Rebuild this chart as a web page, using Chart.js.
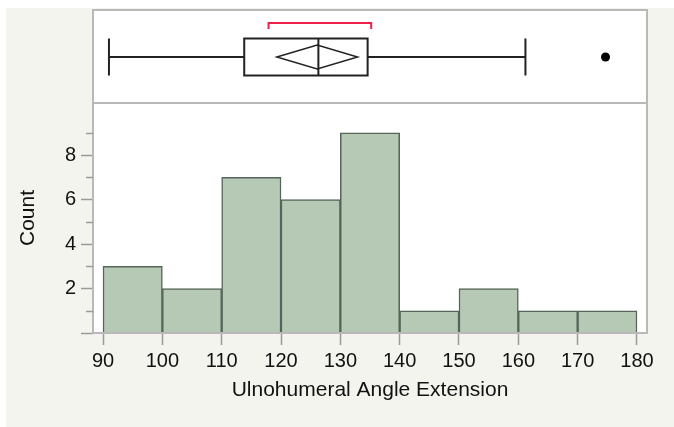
<!DOCTYPE html>
<html>
<head>
<meta charset="utf-8">
<script src="https://cdn.jsdelivr.net/npm/chart.js@4.4.1/dist/chart.umd.min.js"></script>
<style>
  html, body { margin: 0; padding: 0; background: #ffffff; }
  #wrap { position: relative; width: 674px; height: 427px; overflow: hidden; }
  #bg { position: absolute; left: 6px; top: 8px; right: 0; bottom: 0; background: #f4f4ef; }
  #myChart { position: absolute; left: 0; top: 0; }
</style>
</head>
<body>
<div id="wrap">
  <div id="bg"></div>
  <canvas id="myChart" width="674" height="427"></canvas>
</div>
<script>
// histogram bins (left edge of each 10-degree bin) and counts
const binStarts = [90, 100, 110, 120, 130, 140, 150, 160, 170];
const counts = [3, 2, 7, 6, 9, 1, 2, 1, 1];
const binWidth = 10;

// tick values
const xTicks = [90, 100, 110, 120, 130, 140, 150, 160, 170, 180];
const yTicks = [0, 1, 2, 3, 4, 5, 6, 7, 8, 9];

// outlier box plot summary
const whiskers = [91.0, 161.2];
const quartiles = [113.8, 134.6];
const median = 126.3;
const meanDiamond = [119.3, 126.1, 132.9]; // lower CI, mean, upper CI
const shortestHalf = [117.9, 135.2];
const outliers = [174.7];

const FRAME = '#b9b9b9';
const TICK = '#9a9a9a';
const TEXT = '#111111';
const FONT = '"Liberation Sans", Arial, sans-serif';

// panel backgrounds, frame, minor y ticks and the box plot on top
const boxPanel = {
  id: 'boxPanel',
  beforeDraw(chart) {
    const {ctx, chartArea: a} = chart;
    ctx.save();
    ctx.fillStyle = '#ffffff';
    ctx.fillRect(a.left, 10, a.right - a.left, a.bottom - 10);
    ctx.restore();
  },
  afterDraw(chart) {
    const {ctx, chartArea: a} = chart;
    const x = chart.scales.x, y = chart.scales.y;
    ctx.save();

    // frame around both panels
    ctx.strokeStyle = FRAME;
    ctx.lineWidth = 2;
    ctx.strokeRect(a.left, 10, a.right - a.left, a.bottom - 10);
    ctx.beginPath();
    ctx.moveTo(a.left, a.top);
    ctx.lineTo(a.right, a.top);
    ctx.stroke();

    // minor ticks on odd counts
    ctx.strokeStyle = TICK;
    ctx.lineWidth = 1.5;
    yTicks.filter(v => v % 2 === 1).forEach(v => {
      const py = Math.round(y.getPixelForValue(v)) + 0.5;
      ctx.beginPath();
      ctx.moveTo(a.left - 7, py);
      ctx.lineTo(a.left, py);
      ctx.stroke();
    });

    // box plot
    const cy = 57, hb = 18.5, hd = 12;
    const px = v => x.getPixelForValue(v);
    ctx.strokeStyle = '#222222';
    ctx.lineWidth = 2;
    ctx.beginPath();
    // whiskers
    ctx.moveTo(px(whiskers[0]), cy); ctx.lineTo(px(quartiles[0]), cy);
    ctx.moveTo(px(quartiles[1]), cy); ctx.lineTo(px(whiskers[1]), cy);
    ctx.moveTo(px(whiskers[0]), cy - hb); ctx.lineTo(px(whiskers[0]), cy + hb);
    ctx.moveTo(px(whiskers[1]), cy - hb); ctx.lineTo(px(whiskers[1]), cy + hb);
    // median
    ctx.moveTo(px(median), cy - hb); ctx.lineTo(px(median), cy + hb);
    ctx.stroke();
    ctx.strokeRect(px(quartiles[0]), cy - hb, px(quartiles[1]) - px(quartiles[0]), 2 * hb);

    // means diamond
    ctx.lineWidth = 1.5;
    ctx.beginPath();
    ctx.moveTo(px(meanDiamond[0]), cy);
    ctx.lineTo(px(meanDiamond[1]), cy - hd);
    ctx.lineTo(px(meanDiamond[2]), cy);
    ctx.lineTo(px(meanDiamond[1]), cy + hd);
    ctx.closePath();
    ctx.stroke();

    // shortest half bracket
    ctx.strokeStyle = '#f0204a';
    ctx.lineWidth = 2;
    ctx.beginPath();
    ctx.moveTo(px(shortestHalf[0]), 29);
    ctx.lineTo(px(shortestHalf[0]), 23);
    ctx.lineTo(px(shortestHalf[1]), 23);
    ctx.lineTo(px(shortestHalf[1]), 29);
    ctx.stroke();

    // outliers
    ctx.fillStyle = '#000000';
    outliers.forEach(v => {
      ctx.beginPath();
      ctx.arc(px(v), cy, 4.5, 0, Math.PI * 2);
      ctx.fill();
    });
    ctx.restore();
  }
};

document.addEventListener('DOMContentLoaded', () => {
  const ctx = document.getElementById('myChart').getContext('2d');
  new Chart(ctx, {
    type: 'bar',
    data: {
      datasets: [{
        label: 'Count',
        data: binStarts.map((b, i) => ({x: b + binWidth / 2, y: counts[i]})),
        backgroundColor: '#b6c9b5',
        borderColor: '#56655a',
        borderWidth: 1.5,
        barPercentage: 1,
        categoryPercentage: 1
      }]
    },
    options: {
      responsive: false,
      animation: false,
      devicePixelRatio: 1,
      layout: { padding: { top: 103, right: 27, left: 0, bottom: 0 } },
      plugins: { legend: { display: false }, tooltip: { enabled: false } },
      scales: {
        x: {
          type: 'linear',
          min: 88.31,
          max: 181.69,
          offset: false,
          afterFit(scale) { scale.height = 94; },
          afterBuildTicks(scale) { scale.ticks = xTicks.map(v => ({value: v})); },
          grid: { offset: false, drawOnChartArea: false, tickLength: 12, tickColor: TICK, tickWidth: 1.5 },
          border: { display: false },
          ticks: {
            color: TEXT,
            padding: 4,
            maxRotation: 0,
            autoSkip: false,
            font: { family: FONT, size: 20 }
          },
          title: {
            display: true,
            text: 'Ulnohumeral Angle Extension',
            color: TEXT,
            padding: { top: 0, bottom: 24 },
            font: { family: FONT, size: 21 }
          }
        },
        y: {
          min: 0,
          max: 10.34,
          afterFit(scale) { scale.width = 93; },
          afterBuildTicks(scale) { scale.ticks = yTicks.map(v => ({value: v})); },
          grid: {
            drawOnChartArea: false,
            tickLength: 12,
            tickWidth: 1.5,
            tickColor: c => (c.tick && c.tick.value % 2 === 0) ? TICK : 'rgba(0,0,0,0)'
          },
          border: { display: false },
          ticks: {
            color: TEXT,
            padding: 5,
            autoSkip: false,
            callback: v => (v > 0 && v % 2 === 0) ? String(v) : '',
            font: { family: FONT, size: 20 }
          },
          title: {
            display: true,
            text: 'Count',
            color: TEXT,
            padding: { top: 16, bottom: 0 },
            font: { family: FONT, size: 21 }
          }
        }
      }
    },
    plugins: [boxPanel]
  });
});
</script>
</body>
</html>
